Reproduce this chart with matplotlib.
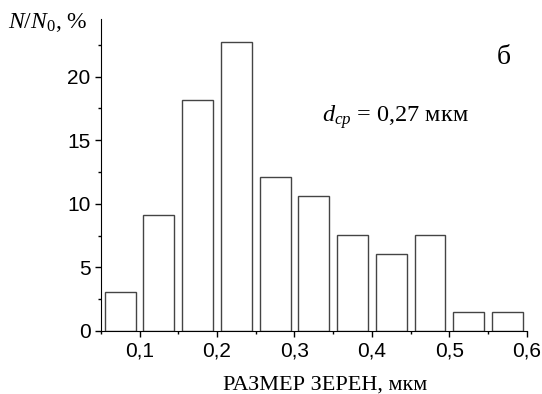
import matplotlib.pyplot as plt
from matplotlib.ticker import MultipleLocator, FuncFormatter

plt.rcParams['mathtext.fontset'] = 'custom'
plt.rcParams['mathtext.rm'] = 'Liberation Serif'
plt.rcParams['mathtext.it'] = 'Liberation Serif:italic'

# grain size bins (centres, мкм) and share of grains, %
bin_centers = [0.075, 0.125, 0.175, 0.225, 0.275, 0.325, 0.375, 0.425, 0.475, 0.525, 0.575]
percent = [3.03, 9.09, 18.18, 22.73, 12.12, 10.61, 7.58, 6.06, 7.58, 1.52, 1.52]
x_ticks = [0.1, 0.2, 0.3, 0.4, 0.5, 0.6]
y_ticks = [0, 5, 10, 15, 20]

fig = plt.figure(figsize=(5.42, 3.94), dpi=100)
ax = fig.add_axes([0.186, 0.160, 0.786, 0.791])

ax.bar(bin_centers, percent, width=0.04, color='white', edgecolor='#444444', linewidth=1.0)

ax.set_xlim(0.05, 0.6)
ax.set_ylim(0, 24.5)
ax.spines['top'].set_visible(False)
ax.spines['right'].set_visible(False)

ax.set_xticks(x_ticks)
ax.set_yticks(y_ticks)
ax.xaxis.set_minor_locator(MultipleLocator(0.05))
ax.yaxis.set_minor_locator(MultipleLocator(2.5))
ax.xaxis.set_major_formatter(FuncFormatter(lambda v, p: ('%.1f' % v).replace('.', ',')))
ax.yaxis.set_major_formatter(FuncFormatter(lambda v, p: '%d' % v))
ax.tick_params(which='major', direction='out', length=4, width=1)
ax.tick_params(which='minor', direction='out', length=2.5, width=1)
for lab in ax.get_xticklabels() + ax.get_yticklabels():
    lab.set_fontfamily('Liberation Sans')
    lab.set_fontsize(15)

fig.text(325 / 542, 1 - 385 / 394, 'РАЗМЕР ЗЕРЕН, мкм', family='Liberation Serif',
         fontsize=16, ha='center', va='center')
fig.text(8 / 542, 1 - 28 / 394, r'$\mathit{N/N}_{\mathrm{0}}$, %', family='Liberation Serif',
         fontsize=17, ha='left', va='baseline')
fig.text(504 / 542, 1 - 58 / 394, 'б', family='Liberation Serif', fontsize=20,
         ha='center', va='center')
fig.text(322 / 542, 1 - 122 / 394, r'$d_{\mathit{ср}}$ = 0,27 мкм', family='Liberation Serif',
         fontsize=17.5, ha='left', va='baseline')

fig.savefig('out.png', dpi=100)
